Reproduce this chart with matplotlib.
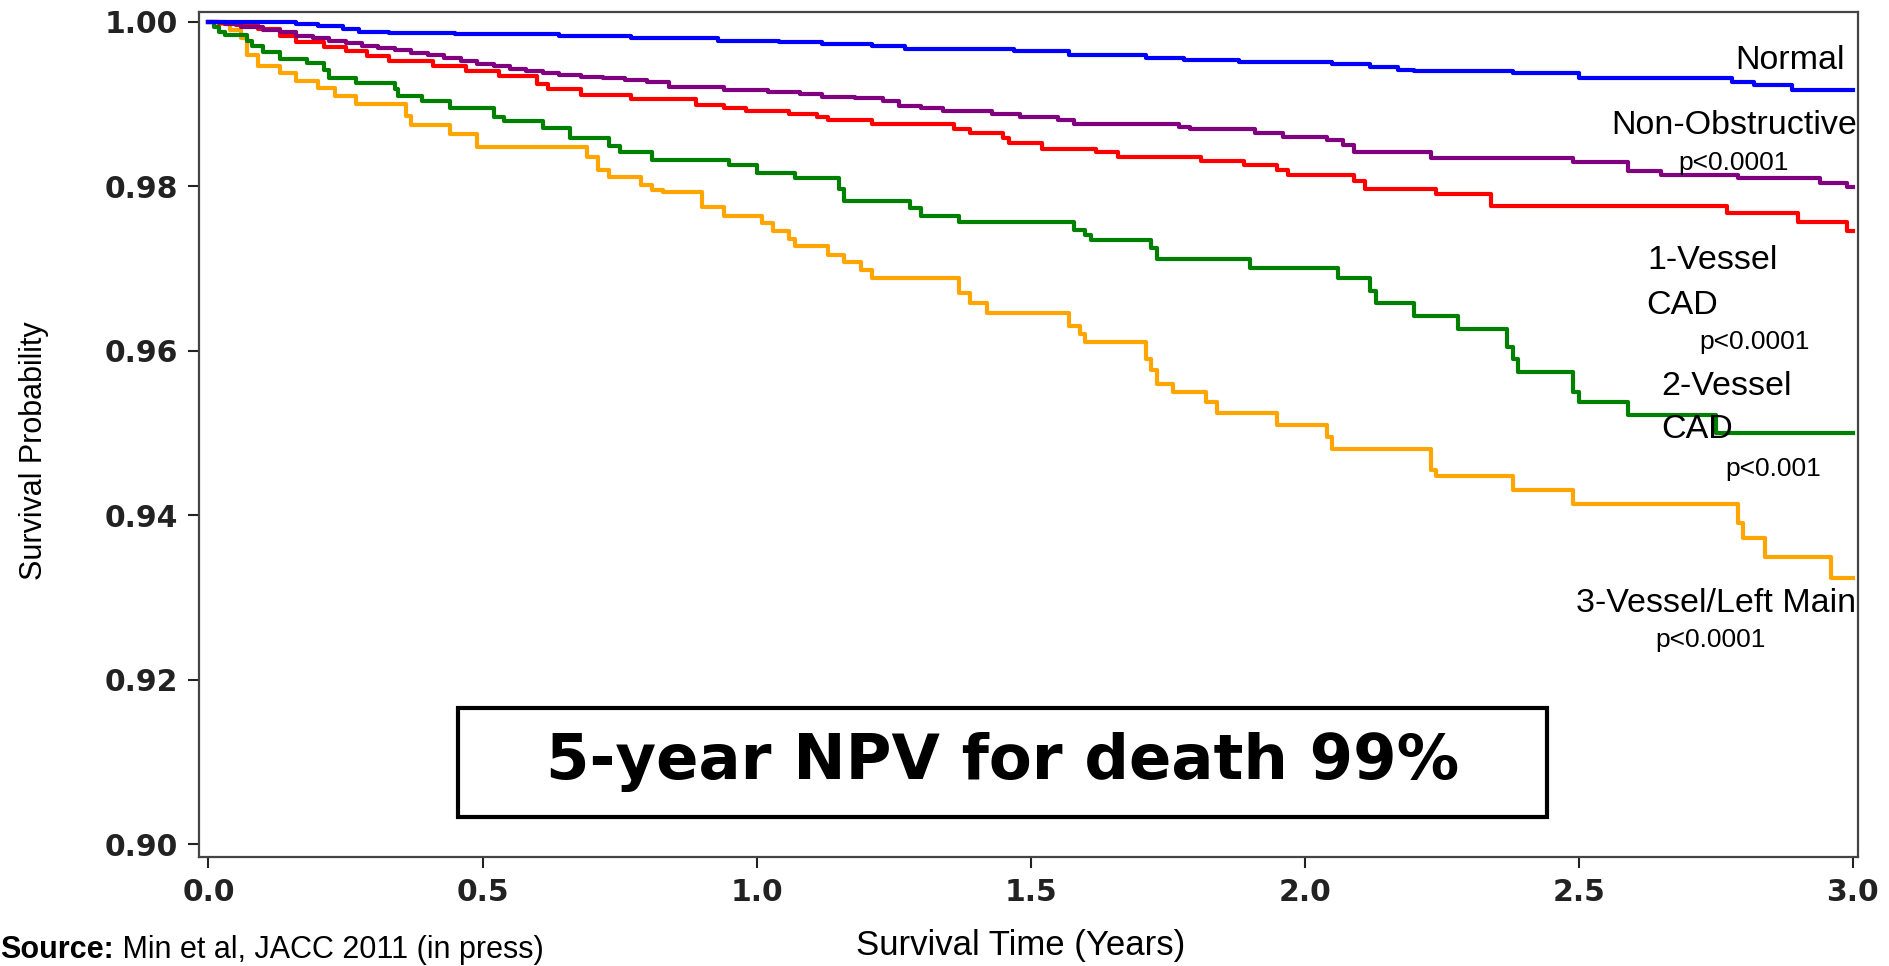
import matplotlib.pyplot as plt
from matplotlib.patches import Rectangle

# Kaplan-Meier survival estimates (time in years, survival probability)
normal_t = [0, 0.16, 0.2, 0.245, 0.275, 0.33, 0.45, 0.64, 0.77, 0.93, 1.04, 1.12, 1.21, 1.27,
            1.47, 1.57, 1.71, 1.78, 1.88, 2.05, 2.12, 2.17, 2.2, 2.38, 2.5, 2.78, 2.82, 2.89, 3.0]
normal_s = [1.0, 0.9997, 0.9995, 0.9991, 0.9988, 0.9986, 0.9985, 0.9983, 0.9980, 0.9977, 0.9975,
            0.9973, 0.9970, 0.9967, 0.9964, 0.9960, 0.9956, 0.9953, 0.9951, 0.9949, 0.9945,
            0.9941, 0.9940, 0.9937, 0.9931, 0.9927, 0.9923, 0.9917, 0.9917]

nonobs_t = [0, 0.03, 0.06, 0.1, 0.13, 0.16, 0.19, 0.22, 0.25, 0.28, 0.31, 0.34, 0.37, 0.4, 0.43,
            0.46, 0.49, 0.52, 0.55, 0.58, 0.61, 0.64, 0.68, 0.72, 0.76, 0.8, 0.84, 0.94, 1.02,
            1.08, 1.12, 1.18, 1.23, 1.26, 1.3, 1.34, 1.43, 1.48, 1.55, 1.58, 1.77, 1.79, 1.91,
            1.96, 2.04, 2.07, 2.09, 2.23, 2.49, 2.59, 2.65, 2.79, 2.94, 2.99, 3.0]
nonobs_s = [1.0, 0.9997, 0.9994, 0.9990, 0.9987, 0.9983, 0.9980, 0.9977, 0.9974, 0.9971, 0.9968,
            0.9965, 0.9962, 0.9959, 0.9956, 0.9952, 0.9949, 0.9946, 0.9943, 0.9940, 0.9938,
            0.9935, 0.9933, 0.9931, 0.9929, 0.9927, 0.9921, 0.9917, 0.9914, 0.9912, 0.9909,
            0.9907, 0.9903, 0.9898, 0.9895, 0.9891, 0.9888, 0.9884, 0.9880, 0.9876, 0.9872,
            0.9869, 0.9865, 0.9860, 0.9856, 0.9850, 0.9842, 0.9834, 0.9829, 0.9819, 0.9814,
            0.9810, 0.9804, 0.9799, 0.9799]

one_t = [0, 0.02, 0.05, 0.09, 0.13, 0.16, 0.21, 0.25, 0.29, 0.33, 0.41, 0.47, 0.53, 0.6, 0.62,
         0.68, 0.77, 0.89, 0.94, 0.98, 1.06, 1.11, 1.13, 1.21, 1.36, 1.39, 1.45, 1.46, 1.52,
         1.62, 1.66, 1.81, 1.89, 1.95, 1.97, 2.09, 2.11, 2.24, 2.34, 2.77, 2.9, 2.99, 3.0]
one_s = [1.0, 0.9998, 0.9996, 0.9991, 0.9982, 0.9975, 0.9969, 0.9964, 0.9958, 0.9952, 0.9946,
         0.9940, 0.9934, 0.9924, 0.9918, 0.9911, 0.9906, 0.9899, 0.9895, 0.9891, 0.9888,
         0.9884, 0.9880, 0.9875, 0.9869, 0.9865, 0.9858, 0.9853, 0.9845, 0.9841, 0.9835,
         0.9830, 0.9826, 0.9820, 0.9814, 0.9806, 0.9796, 0.9791, 0.9776, 0.9767, 0.9757,
         0.9746, 0.9746]

two_t = [0, 0.01, 0.02, 0.03, 0.07, 0.08, 0.1, 0.13, 0.18, 0.21, 0.22, 0.27, 0.34, 0.345, 0.39,
         0.44, 0.52, 0.54, 0.61, 0.66, 0.73, 0.75, 0.81, 0.95, 1.0, 1.07, 1.15, 1.16, 1.28, 1.3,
         1.37, 1.58, 1.6, 1.61, 1.72, 1.73, 1.9, 2.06, 2.12, 2.13, 2.2, 2.28, 2.37, 2.38, 2.39,
         2.49, 2.5, 2.59, 2.75, 3.0]
two_s = [1.0, 0.9994, 0.9988, 0.9984, 0.9976, 0.9970, 0.9963, 0.9955, 0.9950, 0.9941, 0.9932,
         0.9926, 0.9918, 0.9910, 0.9903, 0.9895, 0.9884, 0.9879, 0.9871, 0.9858, 0.9849,
         0.9842, 0.9832, 0.9826, 0.9816, 0.9810, 0.9796, 0.9782, 0.9774, 0.9764, 0.9757,
         0.9747, 0.9741, 0.9734, 0.9725, 0.9712, 0.9701, 0.9688, 0.9672, 0.9658, 0.9642,
         0.9626, 0.9605, 0.9590, 0.9574, 0.9550, 0.9538, 0.9522, 0.9500, 0.9500]

three_t = [0, 0.02, 0.04, 0.06, 0.07, 0.09, 0.13, 0.16, 0.2, 0.23, 0.27, 0.36, 0.37, 0.44, 0.49,
           0.69, 0.71, 0.73, 0.79, 0.81, 0.83, 0.9, 0.94, 1.01, 1.03, 1.06, 1.07, 1.13, 1.16,
           1.19, 1.21, 1.37, 1.39, 1.42, 1.57, 1.59, 1.6, 1.71, 1.72, 1.73, 1.76, 1.82, 1.84,
           1.95, 2.04, 2.05, 2.23, 2.24, 2.38, 2.49, 2.79, 2.8, 2.84, 2.96, 3.0]
three_s = [1.0, 0.9997, 0.9990, 0.9980, 0.9960, 0.9946, 0.9938, 0.9928, 0.9919, 0.9910, 0.9900,
           0.9885, 0.9874, 0.9864, 0.9848, 0.9835, 0.9820, 0.9811, 0.9801, 0.9795, 0.9793,
           0.9775, 0.9764, 0.9755, 0.9746, 0.9736, 0.9727, 0.9716, 0.9708, 0.9698, 0.9688,
           0.9670, 0.9658, 0.9646, 0.9630, 0.9620, 0.9610, 0.9590, 0.9576, 0.9560, 0.9550,
           0.9538, 0.9524, 0.9509, 0.9495, 0.9480, 0.9455, 0.9448, 0.9431, 0.9414, 0.9390,
           0.9372, 0.9349, 0.9323, 0.9323]

x_ticks = [0.0, 0.5, 1.0, 1.5, 2.0, 2.5, 3.0]
y_ticks = [0.90, 0.92, 0.94, 0.96, 0.98, 1.00]

fig = plt.figure(figsize=(18.9, 9.66), dpi=100)
ax = fig.add_axes([0.1053, 0.1128, 0.8778, 0.8748])

# drawn back to front so Normal sits on top near t=0
curves = [
    (three_t, three_s, '#ffa500'),
    (two_t, two_s, '#008000'),
    (one_t, one_s, '#ff0000'),
    (nonobs_t, nonobs_s, '#800080'),
    (normal_t, normal_s, '#0000ff'),
]
for t, s, c in curves:
    ax.step(t, s, where='post', color=c, lw=3.0)

ax.set_xlim(-0.0173, 3.0097)
ax.set_ylim(0.89842, 1.00118)
ax.set_xticks(x_ticks)
ax.set_xticklabels([f'{v:.1f}' for v in x_ticks])
ax.set_yticks(y_ticks)
ax.set_yticklabels([f'{v:.2f}' for v in y_ticks])
ax.tick_params(length=8, width=1.5, direction='out', pad=7, labelsize=21.5, colors='#222222')
for lab in ax.get_xticklabels() + ax.get_yticklabels():
    lab.set_fontfamily('DejaVu Sans')
    lab.set_fontweight('bold')
for sp in ax.spines.values():
    sp.set_linewidth(1.6)
    sp.set_color('#444444')

# group labels on the right
lab_font = dict(family='Liberation Sans', color='black', va='center')
ax.text(2.985, 0.99534, 'Normal', fontsize=24.5, ha='right', **lab_font)
ax.text(3.008, 0.98743, 'Non-Obstructive', fontsize=24.5, ha='right', **lab_font)
ax.text(2.681, 0.98281, 'p<0.0001', fontsize=19, ha='left', **lab_font)
ax.text(2.626, 0.97101, '1-Vessel', fontsize=24.5, ha='left', **lab_font)
ax.text(2.624, 0.96553, 'CAD', fontsize=24.5, ha='left', **lab_font)
ax.text(2.721, 0.96103, 'p<0.0001', fontsize=19, ha='left', **lab_font)
ax.text(2.650, 0.95568, '2-Vessel', fontsize=24.5, ha='left', **lab_font)
ax.text(2.650, 0.95045, 'CAD', fontsize=24.5, ha='left', **lab_font)
ax.text(2.768, 0.94558, 'p<0.001', fontsize=19, ha='left', **lab_font)
ax.text(3.007, 0.92928, '3-Vessel/Left Main', fontsize=24.5, ha='right', **lab_font)
ax.text(2.640, 0.92478, 'p<0.0001', fontsize=19, ha='left', **lab_font)

# NPV call-out box
ax.add_patch(Rectangle((0.455, 0.9033), 1.987, 0.0132, fill=False, ec='black', lw=3, zorder=5))
ax.text(1.4485, 0.90993, '5-year NPV for death 99%', fontsize=45, fontweight='bold',
        family='DejaVu Sans', ha='center', va='center', zorder=6)

fig.text(34 / 1890, 1 - 451 / 966, 'Survival Probability', rotation=90, fontsize=22,
         family='Liberation Sans', ha='center', va='center')
fig.text(1021 / 1890, 1 - 946 / 966, 'Survival Time (Years)', fontsize=25,
         family='Liberation Sans', ha='center', va='center')

src = fig.text(0.0, 1 - 958 / 966, 'Source:', fontsize=22, fontweight='bold',
               family='Liberation Sans', ha='left', va='baseline')
ax.annotate(' Min et al, JACC 2011 (in press)', xy=(1, 0), xycoords=src, fontsize=22,
            family='Liberation Sans', ha='left', va='bottom', annotation_clip=False)

fig.savefig('out.png', dpi=100)
